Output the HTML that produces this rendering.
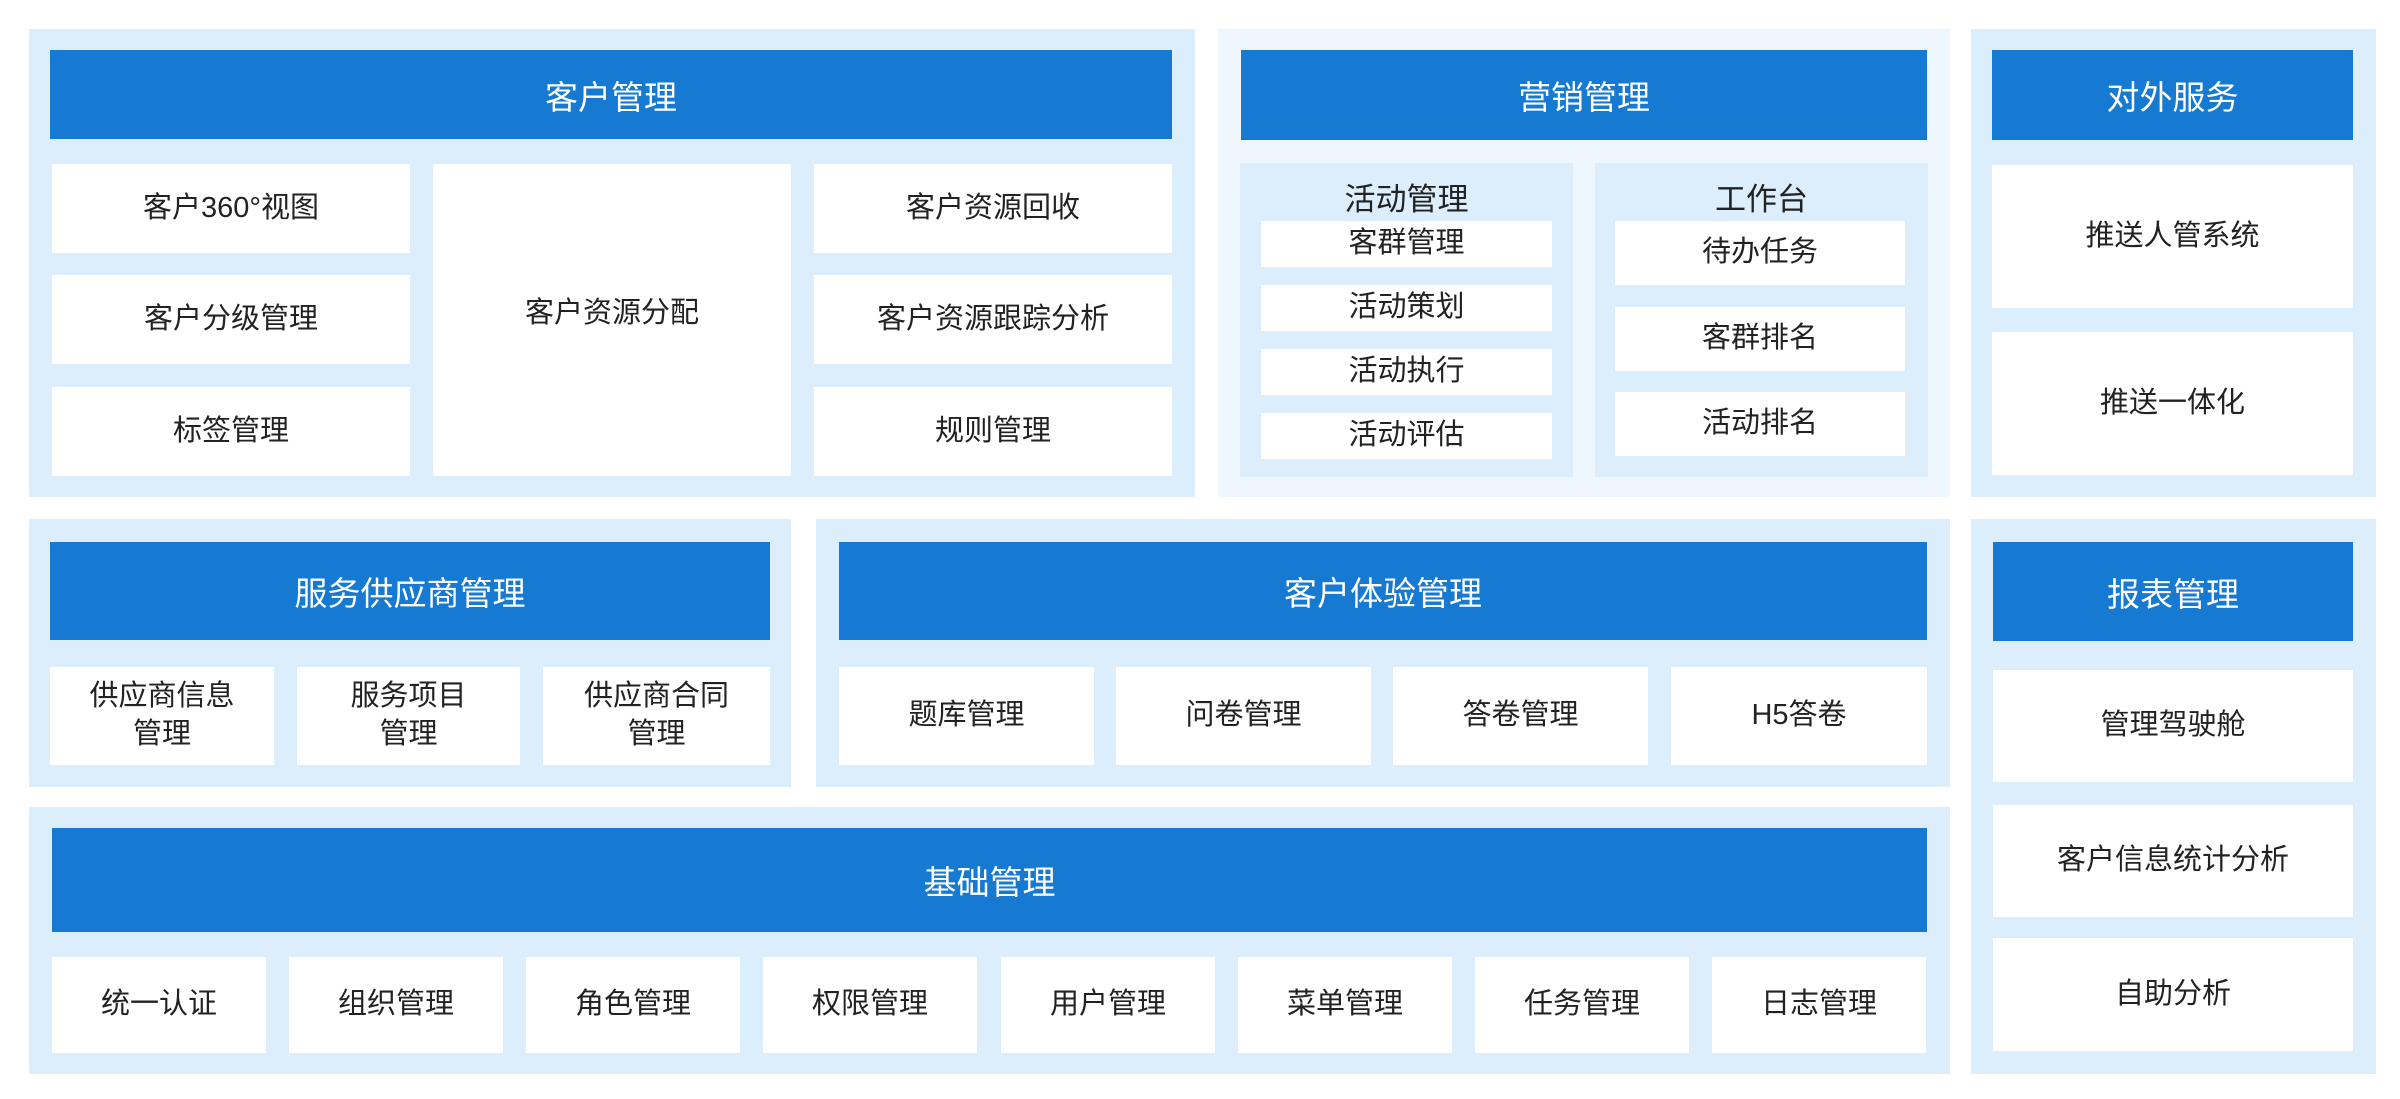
<!DOCTYPE html>
<html><head><meta charset="utf-8"><style>
*{margin:0;padding:0;box-sizing:border-box}
body{width:2400px;height:1099px;background:#fff;position:relative;overflow:hidden;font-family:"Liberation Sans","Noto Sans CJK SC",sans-serif}
div{position:absolute}
.p{background:#dcedfc}
.pl{background:#eef6fe}
.sp{background:#dcedfc}
.h{background:#1679d2;color:#fff;font-size:33px;display:flex;align-items:center;justify-content:center}
.b{background:#fff;color:#222;font-size:29px;display:flex;align-items:center;justify-content:center;text-align:center;line-height:1.3}
.t{color:#222;font-size:31px;text-align:center}
</style></head><body>
<!-- 客户管理 -->
<div class="p" style="left:29px;top:29px;width:1166px;height:468px"></div>
<div class="h" style="left:50px;top:50px;width:1122px;height:89px">客户管理</div>
<div class="b" style="left:52px;top:164px;width:358px;height:89px">客户360°视图</div>
<div class="b" style="left:52px;top:275px;width:358px;height:89px">客户分级管理</div>
<div class="b" style="left:52px;top:387px;width:358px;height:89px">标签管理</div>
<div class="b" style="left:433px;top:164px;width:358px;height:312px;padding-bottom:12px">客户资源分配</div>
<div class="b" style="left:814px;top:164px;width:358px;height:89px">客户资源回收</div>
<div class="b" style="left:814px;top:275px;width:358px;height:89px">客户资源跟踪分析</div>
<div class="b" style="left:814px;top:387px;width:358px;height:89px">规则管理</div>
<!-- 营销管理 -->
<div class="pl" style="left:1218px;top:29px;width:732px;height:468px"></div>
<div class="h" style="left:1241px;top:50px;width:686px;height:90px">营销管理</div>
<div class="sp" style="left:1240px;top:163px;width:333px;height:314px"></div>
<div class="sp" style="left:1595px;top:163px;width:333px;height:314px"></div>
<div class="t" style="left:1240px;top:174px;width:333px">活动管理</div>
<div class="t" style="left:1595px;top:174px;width:333px">工作台</div>
<div class="b" style="left:1261px;top:221px;width:291px;height:46px">客群管理</div>
<div class="b" style="left:1261px;top:285px;width:291px;height:46px">活动策划</div>
<div class="b" style="left:1261px;top:349px;width:291px;height:46px">活动执行</div>
<div class="b" style="left:1261px;top:413px;width:291px;height:46px">活动评估</div>
<div class="b" style="left:1615px;top:221px;width:290px;height:64px">待办任务</div>
<div class="b" style="left:1615px;top:307px;width:290px;height:64px">客群排名</div>
<div class="b" style="left:1615px;top:392px;width:290px;height:64px">活动排名</div>
<!-- 对外服务 -->
<div class="p" style="left:1971px;top:29px;width:405px;height:468px"></div>
<div class="h" style="left:1992px;top:50px;width:361px;height:90px">对外服务</div>
<div class="b" style="left:1992px;top:165px;width:361px;height:143px">推送人管系统</div>
<div class="b" style="left:1992px;top:332px;width:361px;height:143px">推送一体化</div>
<!-- 服务供应商管理 -->
<div class="p" style="left:29px;top:519px;width:762px;height:268px"></div>
<div class="h" style="left:50px;top:542px;width:720px;height:98px">服务供应商管理</div>
<div class="b" style="left:50px;top:667px;width:224px;height:98px">供应商信息<br>管理</div>
<div class="b" style="left:297px;top:667px;width:223px;height:98px">服务项目<br>管理</div>
<div class="b" style="left:543px;top:667px;width:227px;height:98px">供应商合同<br>管理</div>
<!-- 客户体验管理 -->
<div class="p" style="left:816px;top:519px;width:1134px;height:268px"></div>
<div class="h" style="left:839px;top:542px;width:1088px;height:98px">客户体验管理</div>
<div class="b" style="left:839px;top:667px;width:255px;height:98px">题库管理</div>
<div class="b" style="left:1116px;top:667px;width:255px;height:98px">问卷管理</div>
<div class="b" style="left:1393px;top:667px;width:255px;height:98px">答卷管理</div>
<div class="b" style="left:1671px;top:667px;width:256px;height:98px">H5答卷</div>
<!-- 报表管理 -->
<div class="p" style="left:1971px;top:519px;width:405px;height:555px"></div>
<div class="h" style="left:1993px;top:542px;width:360px;height:99px">报表管理</div>
<div class="b" style="left:1993px;top:670px;width:360px;height:112px">管理驾驶舱</div>
<div class="b" style="left:1993px;top:805px;width:360px;height:112px">客户信息统计分析</div>
<div class="b" style="left:1993px;top:938px;width:360px;height:113px">自助分析</div>
<!-- 基础管理 -->
<div class="p" style="left:29px;top:807px;width:1921px;height:267px"></div>
<div class="h" style="left:52px;top:828px;width:1875px;height:104px">基础管理</div>
<div class="b" style="left:52px;top:957px;width:214px;height:96px">统一认证</div>
<div class="b" style="left:289px;top:957px;width:214px;height:96px">组织管理</div>
<div class="b" style="left:526px;top:957px;width:214px;height:96px">角色管理</div>
<div class="b" style="left:763px;top:957px;width:214px;height:96px">权限管理</div>
<div class="b" style="left:1001px;top:957px;width:214px;height:96px">用户管理</div>
<div class="b" style="left:1238px;top:957px;width:214px;height:96px">菜单管理</div>
<div class="b" style="left:1475px;top:957px;width:214px;height:96px">任务管理</div>
<div class="b" style="left:1712px;top:957px;width:214px;height:96px">日志管理</div>
</body></html>
